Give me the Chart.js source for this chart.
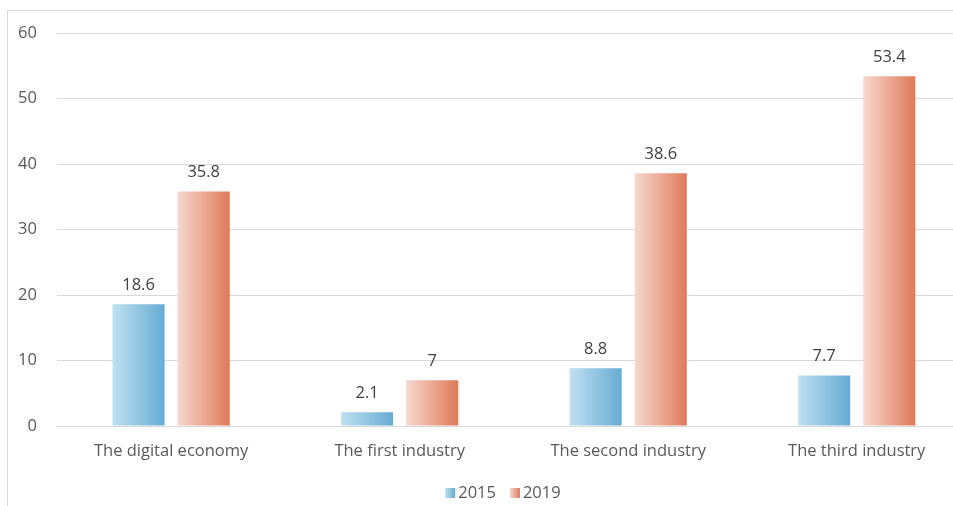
<!DOCTYPE html>
<html>
<head>
<meta charset="utf-8">
<script src="https://cdn.jsdelivr.net/npm/chart.js@4.4.1/dist/chart.umd.min.js"></script>
<style>
	html, body { margin: 0; padding: 0; background: #fff; overflow: hidden; }
	#frame { position: absolute; left: 7px; top: 10px; width: 1000px; height: 600px; border-left: 1px solid #d9d9d9; border-top: 1px solid #d9d9d9; }
	#wrap { position: absolute; left: -2px; top: 11px; width: 973px; height: 501px; }
</style>
</head>
<body>
<div id="frame"></div>
<div id="wrap"><canvas id="industryChart"></canvas></div>
<script>
var categories = ['The digital economy', 'The first industry', 'The second industry', 'The third industry'];
var years = ['2015', '2019'];
var values2015 = [18.6, 2.1, 8.8, 7.7];
var values2019 = [35.8, 7, 38.6, 53.4];
var yTicks = [0, 10, 20, 30, 40, 50, 60];

// light -> dark stops, left to right across each bar
var shades = [
	['#bfe0f0', '#67abd3'],
	['#f6d8cf', '#df7a58']
];

var textColor = '#595959';
var fontFamily = "'Open Sans', sans-serif";
var fontSize = 16.5;

function sideGradient(ctx, left, width, i) {
	var g = ctx.createLinearGradient(left, 0, left + width, 0);
	g.addColorStop(0, shades[i][0]);
	g.addColorStop(1, shades[i][1]);
	return g;
}

// horizontal gradient fill for every bar, built from its own position
var barGradients = {
	id: 'barGradients',
	beforeDatasetsDraw: function(chart) {
		chart.data.datasets.forEach(function(ds, i) {
			chart.getDatasetMeta(i).data.forEach(function(bar) {
				var g = sideGradient(chart.ctx, bar.x - bar.width / 2, bar.width, i);
				bar.options = Object.assign({}, bar.options, {backgroundColor: g});
			});
		});
	}
};

// value written above each bar
var valueLabels = {
	id: 'valueLabels',
	afterDatasetsDraw: function(chart) {
		var ctx = chart.ctx;
		ctx.save();
		ctx.font = fontSize + 'px ' + fontFamily;
		ctx.fillStyle = '#404040';
		ctx.textAlign = 'center';
		ctx.textBaseline = 'bottom';
		chart.data.datasets.forEach(function(ds, i) {
			chart.getDatasetMeta(i).data.forEach(function(bar, j) {
				ctx.fillText(String(ds.data[j]), bar.x, bar.y - 11);
			});
		});
		ctx.restore();
	}
};

// small legend under the axis, gradient swatch + year
var yearLegend = {
	id: 'yearLegend',
	afterDraw: function(chart) {
		var ctx = chart.ctx;
		var box = 10, gap = 3, spacing = 14;
		var cy = chart.height - 19;
		ctx.save();
		ctx.font = fontSize + 'px ' + fontFamily;
		ctx.textBaseline = 'middle';
		var widths = chart.data.datasets.map(function(ds) { return ctx.measureText(ds.label).width; });
		var total = widths.reduce(function(s, w) { return s + box + gap + w; }, 0) + spacing * (widths.length - 1);
		var x = (chart.chartArea.left + chart.chartArea.right) / 2 - 11 - total / 2;
		chart.data.datasets.forEach(function(ds, i) {
			ctx.fillStyle = sideGradient(ctx, x, box, i);
			ctx.fillRect(x, cy - box / 2, box, box);
			ctx.fillStyle = textColor;
			ctx.fillText(ds.label, x + box + gap, cy);
			x += box + gap + widths[i] + spacing;
		});
		ctx.restore();
	}
};

new Chart(document.getElementById('industryChart'), {
	type: 'bar',
	data: {
		labels: categories,
		datasets: [
			{label: years[0], data: values2015},
			{label: years[1], data: values2019}
		]
	},
	options: {
		responsive: true,
		maintainAspectRatio: false,
		animation: false,
		layout: {padding: {top: 22, left: 0, right: 0, bottom: 37.5}},
		datasets: {bar: {categoryPercentage: 0.57, barPercentage: 0.8}},
		scales: {
			x: {
				grid: {display: false},
				border: {display: true, color: '#d9d9d9'},
				ticks: {color: textColor, font: {family: fontFamily, size: fontSize}, padding: 7},
				afterFit: function(axis) { axis.height += 6.7; }
			},
			y: {
				min: 0,
				max: 60,
				afterBuildTicks: function(axis) {
					axis.ticks = yTicks.map(function(v) { return {value: v}; });
				},
				afterFit: function(axis) { axis.paddingTop = 0; },
				grid: {color: '#d9d9d9', drawTicks: false},
				border: {display: false},
				ticks: {color: textColor, font: {family: fontFamily, size: fontSize}, padding: 20}
			}
		},
		plugins: {
			legend: {display: false},
			tooltip: {enabled: false}
		}
	},
	plugins: [barGradients, valueLabels, yearLegend]
});
</script>
</body>
</html>
